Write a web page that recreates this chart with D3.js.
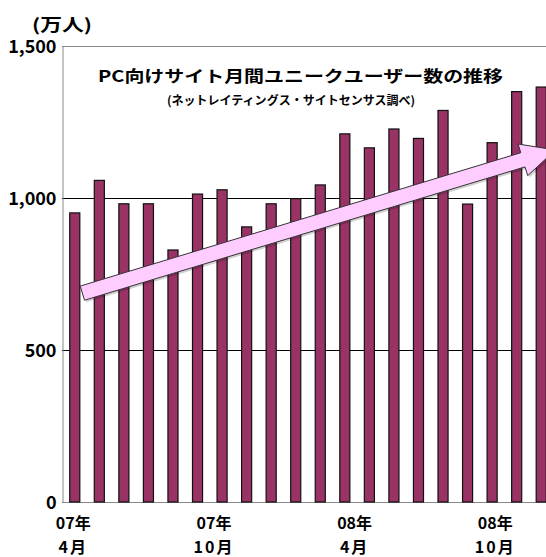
<!DOCTYPE html>
<html><head><meta charset="utf-8">
<script src="https://cdn.jsdelivr.net/npm/d3@7/dist/d3.min.js"></script>
<style>body{margin:0;background:#fff} svg{display:block}</style>
</head><body><svg id="c" width="546" height="557"></svg>
<script>
// ---- data ----
const months = ["07年4月","07年5月","07年6月","07年7月","07年8月","07年9月","07年10月","07年11月","07年12月",
  "08年1月","08年2月","08年3月","08年4月","08年5月","08年6月","08年7月","08年8月","08年9月","08年10月","08年11月"];
const users = [951,1058,981,981,829,1013,1027,905,981,998,1043,1211,1165,1227,1196,1288,980,1182,1350,1365];
const yTicks = [0,500,1000,1500];
const xLabelMonths = ["07年4月","07年10月","08年4月","08年10月"];
const xLabelLines = [["07年","4月"],["07年","10月"],["08年","4月"],["08年","10月"]];
const unitLabel = "(万人)";
const titleText = "PC向けサイト月間ユニークユーザー数の推移";
const subtitleText = "(ネットレイティングス・サイトセンサス調べ)";
const trendFrom = [0.33, 687];   // [category index, value]
const trendTo = [19.6, 1158];

// ---- layout ----
const svg = d3.select("#c");
const FONT = "'Noto Sans CJK JP','Noto Sans',sans-serif";
const left = 62, step = 24.55;
const x = d3.scaleBand().domain(months).range([left, left + step*months.length]).paddingInner(0.59).paddingOuter(0.295);
const y = d3.scaleLinear().domain([0,1500]).range([502,46]);
const right = x.range()[1];
const xi = i => x(months[0]) + x.bandwidth()/2 + i*x.step();

// gridlines
svg.append("g").selectAll("line").data(yTicks).join("line")
  .attr("x1", left).attr("x2", right)
  .attr("y1", d => Math.round(y(d))+0.5).attr("y2", d => Math.round(y(d))+0.5)
  .attr("stroke", d => (d===0||d===1500) ? "#888" : "#000").attr("stroke-width",1);

// y axis
const yAxis = d3.axisLeft(y).tickValues(yTicks).tickFormat(d3.format(",")).tickSize(0).tickPadding(6);
const ga = svg.append("g").attr("transform",`translate(${left+0.5},0)`).call(yAxis);
ga.select(".domain").attr("stroke","#888");
ga.selectAll("text").attr("font-family",FONT).attr("font-weight","bold").attr("font-size",18).attr("fill","#000").attr("dy","0.34em");

// bars
svg.append("g").selectAll("rect").data(users).join("rect")
  .attr("x",(d,i)=>x(months[i])+0.5).attr("width",x.bandwidth())
  .attr("y",d=>y(d)).attr("height",d=>y(0)-y(d))
  .attr("fill","#993366").attr("stroke","#111").attr("stroke-width",1.2);

// trend arrow
(function(){
  const p0=[xi(trendFrom[0]), y(trendFrom[1])], p1=[xi(trendTo[0]), y(trendTo[1])];
  const dx=p1[0]-p0[0], dy=p1[1]-p0[1], L=Math.hypot(dx,dy);
  const u=[dx/L,dy/L], n=[-u[1],u[0]];
  const hw=7.4, hh=16.5, hl=34;
  const b=[p1[0]-u[0]*hl, p1[1]-u[1]*hl];
  const pt=(p,k)=>[p[0]+n[0]*k, p[1]+n[1]*k];
  const pts=[pt(p0,-hw),pt(b,-hw),pt(b,-hh),p1,pt(b,hh),pt(b,hw),pt(p0,hw)];
  const line=d3.line();
  svg.append("path").attr("d",line(pts)+"Z").attr("transform","translate(2,2)").attr("fill","#000").attr("opacity",0.18);
  svg.append("path").attr("d",line(pts)+"Z").attr("fill","#FFCCFF").attr("stroke","#333").attr("stroke-width",1).attr("stroke-linejoin","miter");
})();

// titles
svg.append("text").attr("x",98).attr("y",82).attr("textLength",405).attr("lengthAdjust","spacingAndGlyphs")
  .attr("font-family",FONT).attr("font-weight","bold").attr("font-size",16).text(titleText);
svg.append("text").attr("x",167).attr("y",105).attr("textLength",248).attr("lengthAdjust","spacingAndGlyphs")
  .attr("font-family",FONT).attr("font-weight","bold").attr("font-size",12).text(subtitleText);
svg.append("text").attr("x",32).attr("y",31).attr("textLength",60).attr("lengthAdjust","spacingAndGlyphs")
  .attr("font-family",FONT).attr("font-weight","bold").attr("font-size",17).text(unitLabel);

// x labels
const labelScale = d3.scaleLinear().domain([0, 18]).range([xi(0)-1, xi(0)-1 + 18*x.step()*0.955]);
const gl = svg.append("g").selectAll("text").data(xLabelMonths).join("text")
  .attr("x",d=>labelScale(months.indexOf(d))).attr("text-anchor","middle")
  .attr("font-family",FONT).attr("font-weight","bold").attr("font-size",16);
gl.append("tspan").attr("y",529).text((d,i)=>xLabelLines[i][0]);
gl.append("tspan").attr("x",d=>labelScale(months.indexOf(d))).attr("y",553).attr("letter-spacing",2).text((d,i)=>xLabelLines[i][1]);
</script></body></html>
